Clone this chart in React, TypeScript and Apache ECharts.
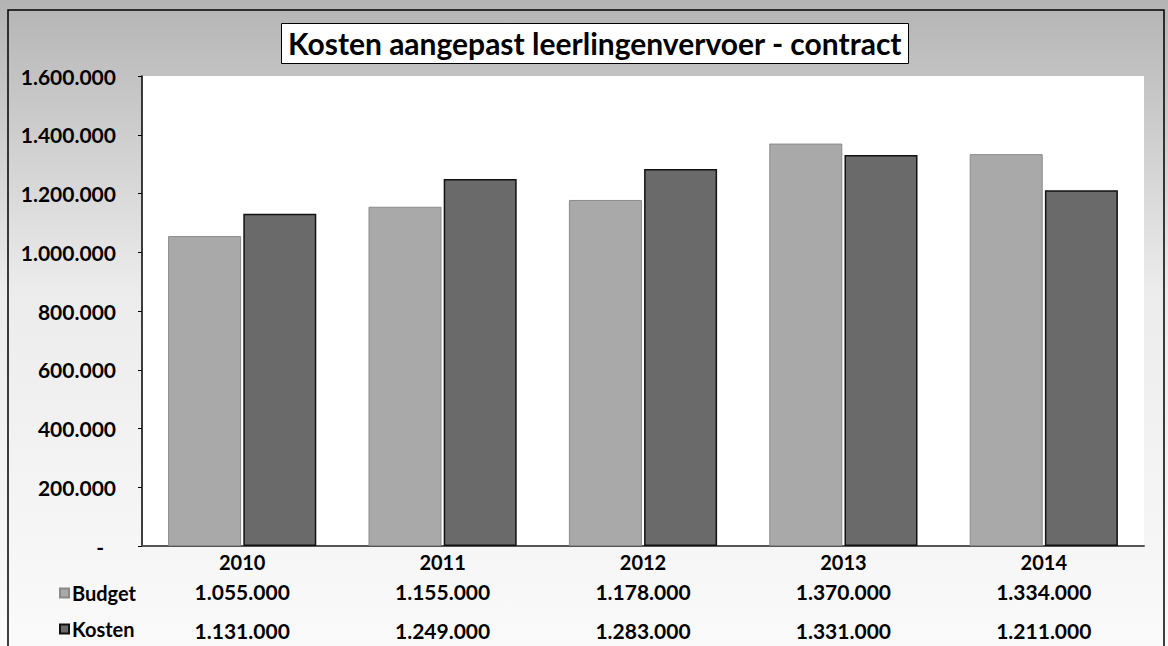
import React, { useEffect, useRef } from "react";
import * as echarts from "echarts";

const years = ["2010", "2011", "2012", "2013", "2014"];
const budget = [1055000, 1155000, 1178000, 1370000, 1334000];
const kosten = [1131000, 1249000, 1283000, 1331000, 1211000];
const seriesNames = ["Budget", "Kosten"];
const titleText = "Kosten aangepast leerlingenvervoer - contract";

const FONT = "Lato, 'Open Sans', sans-serif";

function fmt(v: number): string {
  if (v === 0) return "-";
  return String(Math.round(v)).replace(/\B(?=(\d{3})+(?!\d))/g, ".");
}

export default function App() {
  const ref = useRef<HTMLDivElement>(null);
  useEffect(() => {
    if (!ref.current) return;
    const chart = echarts.init(ref.current, undefined, { renderer: "svg" });
    chart.setOption({
      animation: false,
      backgroundColor: {
        type: "linear",
        x: 0,
        y: 0,
        x2: 0,
        y2: 1,
        colorStops: [
          { offset: 0, color: "#b4b4b4" },
          { offset: 0.45, color: "#ececec" },
          { offset: 1, color: "#fafafa" },
        ],
      },
      title: {
        text: titleText,
        left: 281,
        top: 23,
        padding: [5, 7, 6, 7],
        backgroundColor: "#ffffff",
        borderColor: "#000000",
        borderWidth: 1,
        textStyle: {
          fontFamily: FONT,
          fontWeight: "bold",
          fontSize: 30,
          color: "#000",
        },
      },
      graphic: [
        {
          type: "rect",
          shape: { x: 8, y: 10, width: 1156, height: 660 },
          style: { fill: "none", stroke: "#000", lineWidth: 1.5 },
          silent: true,
          z: 100,
        },
      ],
      legend: {
        data: seriesNames,
        orient: "vertical",
        left: 54,
        top: 578,
        itemWidth: 9,
        itemHeight: 9,
        itemGap: 16,
        icon: "rect",
        textStyle: {
          fontFamily: FONT,
          fontWeight: "bold",
          fontSize: 20,
          color: "#000",
          padding: [0, 0, 0, -2],
        },
      },
      grid: {
        left: 142,
        right: 24,
        top: 76,
        bottom: 100,
        show: true,
        backgroundColor: "#ffffff",
        borderWidth: 0,
      },
      xAxis: {
        type: "category",
        data: years,
        axisLine: { show: true, lineStyle: { color: "#555", width: 2 } },
        axisTick: { show: false },
        axisLabel: {
          margin: 6,
          interval: 0,
          formatter: (val: string, idx: number) =>
            `{y|${val}}\n{v|${fmt(budget[idx])}}\n{v|${fmt(kosten[idx])}}`,
          rich: {
            y: {
              fontFamily: FONT,
              fontWeight: "bold",
              fontSize: 20,
              color: "#000",
              lineHeight: 20,
            },
            v: {
              fontFamily: FONT,
              fontWeight: "bold",
              fontSize: 21,
              color: "#000",
              lineHeight: 39,
            },
          },
        },
      },
      yAxis: {
        type: "value",
        min: 0,
        max: 1600000,
        interval: 200000,
        axisLine: { show: true, lineStyle: { color: "#000", width: 1.5 } },
        axisTick: { show: true, length: 4, lineStyle: { color: "#000" } },
        splitLine: { show: false },
        axisLabel: {
          margin: 26,
          formatter: (v: number) => (v === 0 ? "{d|-}" : fmt(v)),
          fontFamily: FONT,
          fontWeight: "bold",
          fontSize: 21,
          color: "#000",
          rich: {
            d: {
              fontFamily: FONT,
              fontWeight: "bold",
              fontSize: 21,
              color: "#000",
              padding: [0, 12, 0, 0],
            },
          },
        },
      },
      series: [
        {
          name: seriesNames[0],
          type: "bar",
          data: budget,
          barWidth: 73,
          barGap: "3%",
          itemStyle: { color: "#a9a9a9", borderColor: "#8a8a8a", borderWidth: 1 },
        },
        {
          name: seriesNames[1],
          type: "bar",
          data: kosten,
          barWidth: 73,
          barGap: "3%",
          itemStyle: { color: "#6a6a6a", borderColor: "#111", borderWidth: 1.5 },
        },
      ],
    });
    return () => chart.dispose();
  }, []);
  return (
    <div
      ref={ref}
      style={{ position: "fixed", left: 0, top: 0, width: 1168, height: 646 }}
    />
  );
}
